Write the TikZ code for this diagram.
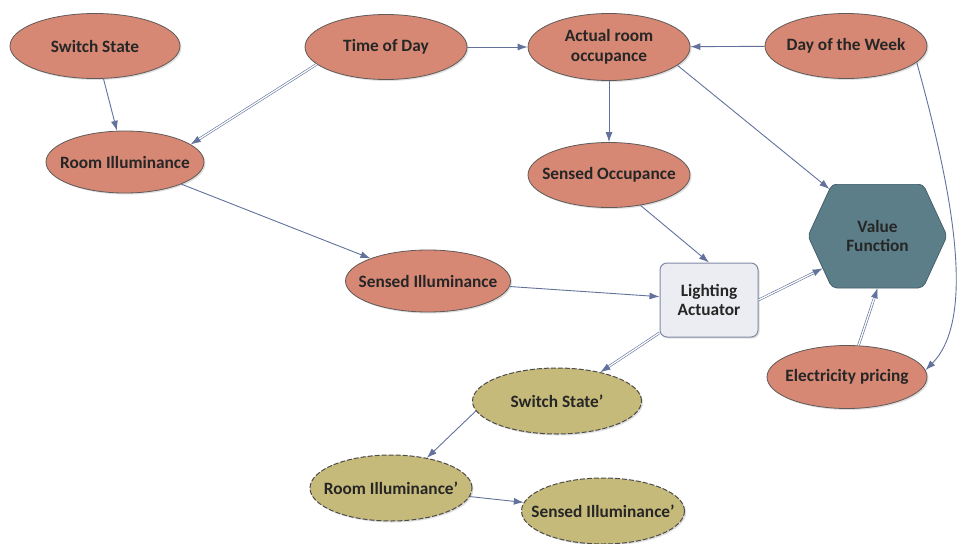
\documentclass[tikz,border=0pt]{standalone}
\usepackage{fontspec}
\setmainfont{Carlito}
\usepackage{tikz}
\usetikzlibrary{shapes.geometric,arrows.meta,shadows,calc}
\definecolor{salmon}{RGB}{214,136,116}
\definecolor{olive}{RGB}{198,186,122}
\definecolor{hexfill}{RGB}{92,126,136}
\definecolor{hexdraw}{RGB}{70,96,106}
\definecolor{actfill}{RGB}{236,237,242}
\definecolor{actdraw}{RGB}{128,138,165}
\definecolor{linkc}{RGB}{98,114,156}
\definecolor{rimc}{RGB}{96,90,88}
\tikzset{
label font/.style={align=center,inner sep=0pt,text=black!85,
  font=\bfseries\fontsize{17.3}{19.5}\selectfont},
base/.style={label font,
  drop shadow={shadow xshift=1.5pt,shadow yshift=-1.5pt,opacity=0.25}},
chance/.style={base,ellipse,inner xsep=-20pt,draw=rimc,line width=0.8pt,fill=salmon,
  minimum width=162pt,minimum height=65pt},
primed/.style={base,ellipse,inner xsep=-20pt,draw=black!70,line width=1pt,
  dash pattern=on 5pt off 2pt,fill=olive,
  minimum width=163pt,minimum height=66pt},
actuator/.style={base,rectangle,rounded corners=7pt,draw=actdraw,
  line width=1pt,fill=actfill,minimum width=98pt,minimum height=74pt},
utility/.style={label font,rectangle,minimum width=139pt,minimum height=104pt,
  path picture={
    \draw[fill=hexfill,draw=hexdraw,line width=0.8pt,rounded corners=5pt]
      (path picture bounding box.west)
      -- ([xshift=24pt]path picture bounding box.north west)
      -- ([xshift=-24pt]path picture bounding box.north east)
      -- (path picture bounding box.east)
      -- ([xshift=-24pt]path picture bounding box.south east)
      -- ([xshift=24pt]path picture bounding box.south west)
      -- cycle;}},
link/.style={draw=linkc,line width=0.9pt,-{Latex[length=10pt,width=7pt]}},
twin/.style={link,double=white,double distance=1.3pt,line width=0.6pt},
}

\begin{document}
\begin{tikzpicture}[x=1pt,y=-1pt]
\path[use as bounding box,fill=white] (0,0) rectangle (960,543);

% chance nodes
\node[chance,minimum width=170pt] (ss) at (95,46) {Switch State};
\node[chance] (td) at (386,47) {Time of Day};
\node[chance,minimum height=67pt] (ao) at (609,47) {Actual room\\occupance};
\node[chance] (dw) at (846,46) {Day of the Week};
\node[chance,minimum width=158pt,minimum height=62pt] (ri) at (125,162) {Room Illuminance};
\node[chance] (so) at (609,175) {Sensed Occupance};
\node[chance,minimum width=165pt,minimum height=62pt] (si) at (428,281) {Sensed Illuminance};
\node[chance,minimum width=160pt,minimum height=63pt] (ep) at (847,377) {Electricity pricing};

% decision and value
\node[actuator] (la) at (709,300) {Lighting\\Actuator};
\node[utility] (vf) at (877.5,236) {Value\\Function};
\coordinate (vftl) at ([xshift=24pt]vf.north west);
\coordinate (vfbl) at ([xshift=24pt]vf.south west);

% next step
\node[primed,minimum width=169pt] (ssp) at (557,401) {Switch State'};
\node[primed,minimum width=162pt] (rip) at (391,488) {Room Illuminance'};
\node[primed] (sip) at (603,511) {Sensed Illuminance'};

% links
\draw[link] (ss) -- (ri);
\draw[twin] (td.194) -- (ri.15);
\draw[link] (td) -- (ao);
\draw[link] (dw) -- (ao);
\draw[link] (ao) -- (so);
\draw[link] (ao.-15) -- ($(vf.west)!0.9!(vftl)$);
\draw[link] (dw.-13) .. controls (955,200) and (975,320) .. (ep.5);
\draw[link] (ri) -- (si);
\draw[link] (so.-44) -- (la.north);
\draw[link] (si) -- (la);
\draw[twin] (la.east) -- ($(vf.west)!0.62!(vfbl)$);
\draw[twin] (ep.70) -- (vf.south);
\draw[twin] (la) -- (ssp);
\draw[link] (ssp.187) -- (rip.40);
\draw[link] (rip) -- (sip);
\end{tikzpicture}
\end{document}
